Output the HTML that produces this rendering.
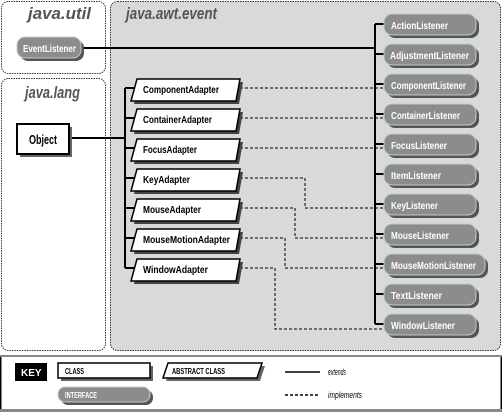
<!DOCTYPE html>
<html><head><meta charset="utf-8"><style>
html,body{margin:0;padding:0;background:#fff;}
svg{display:block;}
text{font-family:"Liberation Sans",sans-serif;font-weight:bold;}
.cls{font-size:10.5px;fill:#000;}
.ifc{font-size:10.5px;fill:#fff;}
.pkg{font-size:17px;font-style:italic;fill:#555;}
</style></head><body>
<svg width="502" height="413" viewBox="0 0 502 413" xmlns="http://www.w3.org/2000/svg">
<rect x="1.5" y="1.5" width="104" height="72" rx="7" fill="#fff" stroke="#333" stroke-width="1" stroke-dasharray="1.5,1"/>
<rect x="1.5" y="78.5" width="104" height="272" rx="7" fill="#fff" stroke="#333" stroke-width="1" stroke-dasharray="1.5,1"/>
<rect x="110.5" y="1.5" width="390" height="349" rx="7" fill="#d9d9d9" stroke="#333" stroke-width="1" stroke-dasharray="1.5,1"/>
<text class="pkg" x="28" y="19" textLength="63" lengthAdjust="spacingAndGlyphs">java.util</text>
<text class="pkg" x="25" y="98" textLength="55" lengthAdjust="spacingAndGlyphs">java.lang</text>
<text class="pkg" x="126" y="19" textLength="91" lengthAdjust="spacingAndGlyphs">java.awt.event</text>

<g stroke="#000" stroke-width="2" fill="none">
<line x1="83" y1="48" x2="375" y2="48"/>
<line x1="375" y1="24" x2="375" y2="324"/>
<line x1="375" y1="24" x2="385" y2="24"/><line x1="375" y1="54" x2="385" y2="54"/>
<line x1="375" y1="84" x2="385" y2="84"/><line x1="375" y1="114" x2="385" y2="114"/>
<line x1="375" y1="144" x2="385" y2="144"/><line x1="375" y1="174" x2="385" y2="174"/>
<line x1="375" y1="204" x2="385" y2="204"/><line x1="375" y1="234" x2="385" y2="234"/>
<line x1="375" y1="264" x2="385" y2="264"/><line x1="375" y1="294" x2="385" y2="294"/>
<line x1="375" y1="324" x2="385" y2="324"/>
<line x1="69" y1="138" x2="125" y2="138"/>
<line x1="125" y1="88" x2="125" y2="268"/>
<line x1="125" y1="88" x2="136" y2="88"/><line x1="125" y1="118" x2="136" y2="118"/>
<line x1="125" y1="148" x2="136" y2="148"/><line x1="125" y1="178" x2="136" y2="178"/>
<line x1="125" y1="208" x2="136" y2="208"/><line x1="125" y1="238" x2="136" y2="238"/>
<line x1="125" y1="268" x2="136" y2="268"/>
</g>
<g stroke="#000" stroke-width="1" fill="none" stroke-dasharray="3,2">
<polyline points="240,88 385,88"/>
<polyline points="240,118 385,118"/>
<polyline points="240,148 385,148"/>
<polyline points="240,178 305,178 305,208 385,208"/>
<polyline points="240,208 295,208 295,238 385,238"/>
<polyline points="240,238 285,238 285,268 385,268"/>
<polyline points="240,268 275,268 275,329 385,329"/>
</g>

<rect x="20" y="40" width="64" height="21" rx="8" fill="#555"/>
<rect x="17" y="37" width="64" height="21" rx="8" fill="#8c8c8c" stroke="#b8cfcf" stroke-width="1"/>
<text class="ifc" x="23" y="52" textLength="53" lengthAdjust="spacingAndGlyphs">EventListener</text>

<rect x="20" y="127" width="52" height="30" fill="#666"/>
<rect x="17" y="124" width="52" height="30" fill="#fff" stroke="#000" stroke-width="2"/>
<text class="cls" x="29" y="144" style="font-size:13px" textLength="28" lengthAdjust="spacingAndGlyphs">Object</text>

<g>
<rect x="387" y="17" width="92" height="21" rx="8" fill="#555"/><rect x="384" y="14" width="92" height="21" rx="8" fill="#8c8c8c" stroke="#b8cfcf"/><text class="ifc" x="391" y="29" textLength="57" lengthAdjust="spacingAndGlyphs">ActionListener</text>
<rect x="387" y="47" width="92" height="21" rx="8" fill="#555"/><rect x="384" y="44" width="92" height="21" rx="8" fill="#8c8c8c" stroke="#b8cfcf"/><text class="ifc" x="390" y="59" textLength="79" lengthAdjust="spacingAndGlyphs">AdjustmentListener</text>
<rect x="387" y="77" width="92" height="21" rx="8" fill="#555"/><rect x="384" y="74" width="92" height="21" rx="8" fill="#8c8c8c" stroke="#b8cfcf"/><text class="ifc" x="391" y="89" textLength="75" lengthAdjust="spacingAndGlyphs">ComponentListener</text>
<rect x="387" y="107" width="92" height="21" rx="8" fill="#555"/><rect x="384" y="104" width="92" height="21" rx="8" fill="#8c8c8c" stroke="#b8cfcf"/><text class="ifc" x="391" y="119" textLength="69" lengthAdjust="spacingAndGlyphs">ContainerListener</text>
<rect x="387" y="137" width="92" height="21" rx="8" fill="#555"/><rect x="384" y="134" width="92" height="21" rx="8" fill="#8c8c8c" stroke="#b8cfcf"/><text class="ifc" x="391" y="149" textLength="56" lengthAdjust="spacingAndGlyphs">FocusListener</text>
<rect x="387" y="167" width="92" height="21" rx="8" fill="#555"/><rect x="384" y="164" width="92" height="21" rx="8" fill="#8c8c8c" stroke="#b8cfcf"/><text class="ifc" x="391" y="179" textLength="50" lengthAdjust="spacingAndGlyphs">ItemListener</text>
<rect x="387" y="197" width="92" height="21" rx="8" fill="#555"/><rect x="384" y="194" width="92" height="21" rx="8" fill="#8c8c8c" stroke="#b8cfcf"/><text class="ifc" x="391" y="209" textLength="47" lengthAdjust="spacingAndGlyphs">KeyListener</text>
<rect x="387" y="227" width="92" height="21" rx="8" fill="#555"/><rect x="384" y="224" width="92" height="21" rx="8" fill="#8c8c8c" stroke="#b8cfcf"/><text class="ifc" x="391" y="239" textLength="58" lengthAdjust="spacingAndGlyphs">MouseListener</text>
<rect x="387" y="257" width="101" height="21" rx="8" fill="#555"/><rect x="384" y="254" width="101" height="21" rx="8" fill="#8c8c8c" stroke="#b8cfcf"/><text class="ifc" x="391" y="269" textLength="85" lengthAdjust="spacingAndGlyphs">MouseMotionListener</text>
<rect x="387" y="287" width="92" height="21" rx="8" fill="#555"/><rect x="384" y="284" width="92" height="21" rx="8" fill="#8c8c8c" stroke="#b8cfcf"/><text class="ifc" x="391" y="299" textLength="51" lengthAdjust="spacingAndGlyphs">TextListener</text>
<rect x="387" y="317" width="92" height="21" rx="8" fill="#555"/><rect x="384" y="314" width="92" height="21" rx="8" fill="#8c8c8c" stroke="#b8cfcf"/><text class="ifc" x="391" y="329" textLength="64" lengthAdjust="spacingAndGlyphs">WindowListener</text>
</g>

<g stroke-width="1.5">
<polygon points="140,82 243,82 239,104 134,104" fill="#444"/><polygon points="137,79 240,79 236,101 131,101" fill="#fff" stroke="#000"/><text class="cls" x="143" y="93" textLength="76" lengthAdjust="spacingAndGlyphs">ComponentAdapter</text>
<polygon points="140,112 243,112 239,134 134,134" fill="#444"/><polygon points="137,109 240,109 236,131 131,131" fill="#fff" stroke="#000"/><text class="cls" x="143" y="123" textLength="69" lengthAdjust="spacingAndGlyphs">ContainerAdapter</text>
<polygon points="140,142 243,142 239,164 134,164" fill="#444"/><polygon points="137,139 240,139 236,161 131,161" fill="#fff" stroke="#000"/><text class="cls" x="143" y="153" textLength="54" lengthAdjust="spacingAndGlyphs">FocusAdapter</text>
<polygon points="140,172 243,172 239,194 134,194" fill="#444"/><polygon points="137,169 240,169 236,191 131,191" fill="#fff" stroke="#000"/><text class="cls" x="143" y="183" textLength="47" lengthAdjust="spacingAndGlyphs">KeyAdapter</text>
<polygon points="140,202 243,202 239,224 134,224" fill="#444"/><polygon points="137,199 240,199 236,221 131,221" fill="#fff" stroke="#000"/><text class="cls" x="143" y="213" textLength="58" lengthAdjust="spacingAndGlyphs">MouseAdapter</text>
<polygon points="140,232 243,232 239,254 134,254" fill="#444"/><polygon points="137,229 240,229 236,251 131,251" fill="#fff" stroke="#000"/><text class="cls" x="143" y="243" textLength="87" lengthAdjust="spacingAndGlyphs">MouseMotionAdapter</text>
<polygon points="140,262 243,262 239,284 134,284" fill="#444"/><polygon points="137,259 240,259 236,281 131,281" fill="#fff" stroke="#000"/><text class="cls" x="143" y="273" textLength="65" lengthAdjust="spacingAndGlyphs">WindowAdapter</text>
</g>

<rect x="0" y="355" width="502" height="2" fill="#888"/>
<rect x="0" y="409" width="502" height="3" fill="#888"/>
<rect x="0" y="357" width="1.5" height="52" fill="#000"/>
<rect x="500.5" y="357" width="1.5" height="52" fill="#000"/>
<rect x="15" y="363" width="32" height="18" fill="#000"/>
<text x="21" y="376" style="font-size:10px;fill:#fff">KEY</text>
<rect x="61" y="366" width="92" height="15" fill="#666"/>
<rect x="58" y="363" width="92" height="15" fill="#fff" stroke="#000" stroke-width="1.5"/>
<text class="cls" x="65" y="374" style="font-size:8px" textLength="19" lengthAdjust="spacingAndGlyphs">CLASS</text>
<polygon points="171,366 265,366 260,381 166,381" fill="#666"/>
<polygon points="168,363 262,363 257,378 163,378" fill="#fff" stroke="#000" stroke-width="1.5"/>
<text class="cls" x="172" y="374" style="font-size:8px" textLength="53" lengthAdjust="spacingAndGlyphs">ABSTRACT CLASS</text>
<rect x="61" y="390" width="92" height="15" rx="7" fill="#555"/>
<rect x="58" y="387" width="92" height="15" rx="7" fill="#8c8c8c" stroke="#b8cfcf"/>
<text class="ifc" x="65" y="398" style="font-size:8px" textLength="32" lengthAdjust="spacingAndGlyphs">INTERFACE</text>
<line x1="285" y1="372" x2="320" y2="372" stroke="#000" stroke-width="1.5"/>
<text x="328" y="375" style="font-size:9px;font-style:italic;font-weight:normal" textLength="18" lengthAdjust="spacingAndGlyphs">extends</text>
<line x1="285" y1="395" x2="320" y2="395" stroke="#000" stroke-width="1.5" stroke-dasharray="3,2"/>
<text x="328" y="398" style="font-size:9px;font-style:italic;font-weight:normal" textLength="34" lengthAdjust="spacingAndGlyphs">implements</text>
</svg>
</body></html>
